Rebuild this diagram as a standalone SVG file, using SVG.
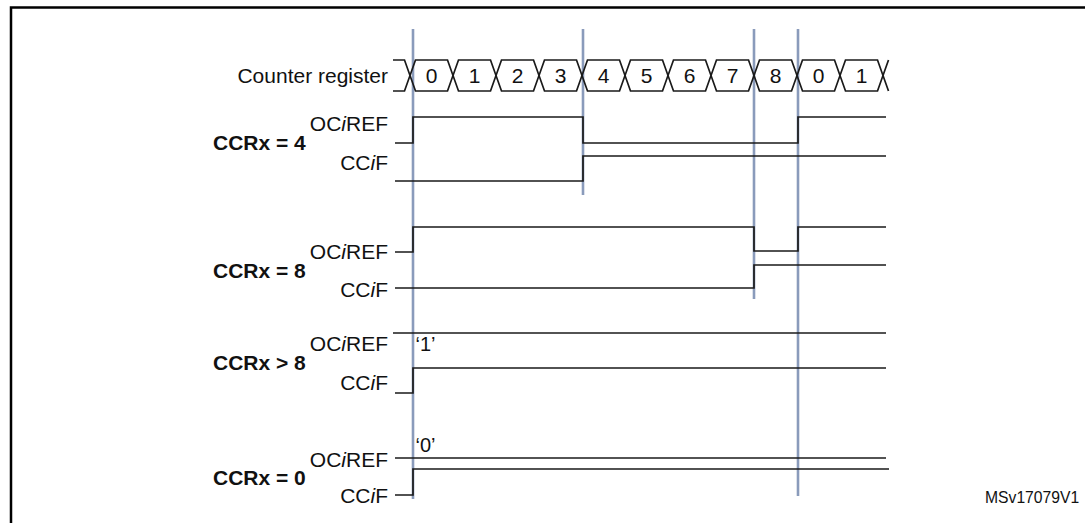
<svg xmlns="http://www.w3.org/2000/svg" width="1085" height="523" viewBox="0 0 1085 523">
<style>
.t{font-family:"Liberation Sans",Arial,sans-serif;font-size:21px;fill:#111}
.b{font-family:"Liberation Sans",Arial,sans-serif;font-size:21px;font-weight:bold;fill:#111}
.d{font-family:"Liberation Sans",Arial,sans-serif;font-size:21px;fill:#111;text-anchor:middle}
.e{text-anchor:end}
.s{fill:none;stroke:#1a1a1a;stroke-width:1.7}
.m{fill:none;stroke:#8a9bbb;stroke-width:2.6}
.i{font-style:italic}
</style>
<rect width="1085" height="523" fill="#fff"/>
<path d="M11,530 V7.5 H1095" fill="none" stroke="#000" stroke-width="2.5"/>

<g id="markers">
<line class="m" x1="413" y1="29" x2="413" y2="499"/>
<line class="m" x1="583" y1="29" x2="583" y2="195"/>
<line class="m" x1="754" y1="29" x2="754" y2="299"/>
<line class="m" x1="798" y1="29" x2="798" y2="496"/>
</g>

<g id="counter">
<text class="t e" x="388" y="82.5">Counter register</text>
<path class="s" d="M393,60 H404.5 L415.5,91 H447.5 L458.5,60 H490.5 L501.5,91 H533.5 L544.5,60 H576.5 L587.5,91 H619.5 L630.5,60 H662.5 L673.5,91 H705.5 L716.5,60 H748.5 L759.5,91 H791.5 L802.5,60 H834.5 L845.5,91 H877.5 L888.5,60"/>
<path class="s" d="M393,91 H404.5 L415.5,60 H447.5 L458.5,91 H490.5 L501.5,60 H533.5 L544.5,91 H576.5 L587.5,60 H619.5 L630.5,91 H662.5 L673.5,60 H705.5 L716.5,91 H748.5 L759.5,60 H791.5 L802.5,91 H834.5 L845.5,60 H877.5 L888.5,91"/>
<text class="d" x="431.5" y="83">0</text>
<text class="d" x="474.5" y="83">1</text>
<text class="d" x="517.5" y="83">2</text>
<text class="d" x="560.5" y="83">3</text>
<text class="d" x="603.5" y="83">4</text>
<text class="d" x="646.5" y="83">5</text>
<text class="d" x="689.5" y="83">6</text>
<text class="d" x="732.5" y="83">7</text>
<text class="d" x="775.5" y="83">8</text>
<text class="d" x="818.5" y="83">0</text>
<text class="d" x="861.5" y="83">1</text>
</g>

<g id="ccr4">
<text class="b" x="213" y="149.5">CCRx = 4</text>
<text class="t e" x="388" y="131">OC<tspan class="i">i</tspan>REF</text>
<text class="t e" x="388" y="169.5">CC<tspan class="i">i</tspan>F</text>
<path class="s" d="M395,143 H413 V117 H583 V143 H798 V117 H886"/>
<path class="s" d="M395,181 H583 V156 H886"/>
</g>

<g id="ccr8">
<text class="b" x="213" y="278">CCRx = 8</text>
<text class="t e" x="388" y="259">OC<tspan class="i">i</tspan>REF</text>
<text class="t e" x="388" y="297">CC<tspan class="i">i</tspan>F</text>
<path class="s" d="M395,252 H413 V227 H754 V251 H798 V227 H886"/>
<path class="s" d="M395,288 H754 V265 H886"/>
</g>

<g id="ccrgt8">
<text class="b" x="213" y="370">CCRx &gt; 8</text>
<text class="t e" x="388" y="351">OC<tspan class="i">i</tspan>REF</text>
<text class="t e" x="388" y="390">CC<tspan class="i">i</tspan>F</text>
<text class="t" x="415.5" y="351" style="font-size:20px">‘1’</text>
<path class="s" d="M393,333 H886"/>
<path class="s" d="M395,393 H413 V368 H886"/>
</g>

<g id="ccr0">
<text class="b" x="213" y="485">CCRx = 0</text>
<text class="t e" x="388" y="466.5">OC<tspan class="i">i</tspan>REF</text>
<text class="t e" x="388" y="503">CC<tspan class="i">i</tspan>F</text>
<text class="t" x="415.5" y="452" style="font-size:20px">‘0’</text>
<path class="s" d="M395,458 H886"/>
<path class="s" d="M395,495 H413 V469 H889"/>
</g>

<text class="t" x="985" y="503" style="font-size:15.7px">MSv17079V1</text>
</svg>
